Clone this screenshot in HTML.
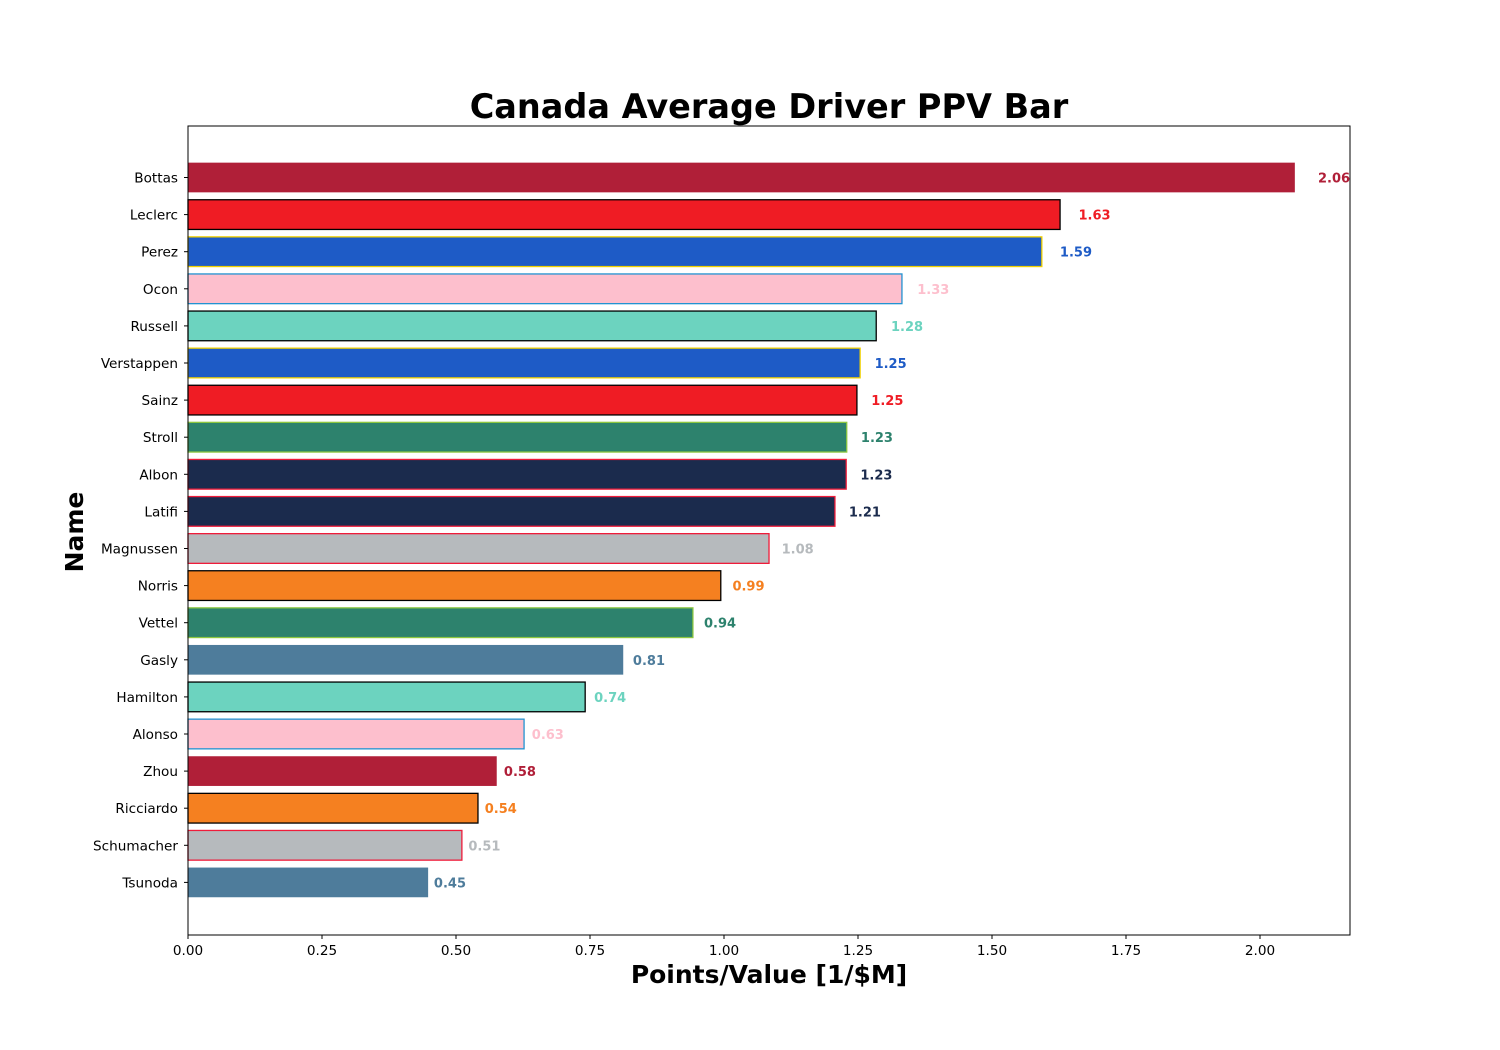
<!DOCTYPE html>
<html><head><meta charset="utf-8"><style>
html,body{margin:0;padding:0;background:#fff;}
svg{display:block;font-family:"DejaVu Sans","Liberation Sans",sans-serif;}
</style></head><body>
<svg id="chart" width="1500" height="1050" viewBox="0 0 1500 1050" xmlns="http://www.w3.org/2000/svg">
<rect width="1500" height="1050" fill="#fff"/>
<text x="769" y="118" text-anchor="middle" font-size="33.5" font-weight="bold">Canada Average Driver PPV Bar</text>
<text x="769" y="983" text-anchor="middle" font-size="25" font-weight="bold">Points/Value [1/$M]</text>
<text x="0" y="0" transform="translate(83,532) rotate(-90)" text-anchor="middle" font-size="25" font-weight="bold">Name</text>
<g id="bars"></g>
<g id="ticks"></g>
<rect x="188" y="126" width="1162" height="809" fill="none" stroke="#000" stroke-width="1"/>
</svg>
<script>
const names = ["Bottas","Leclerc","Perez","Ocon","Russell","Verstappen","Sainz","Stroll","Albon","Latifi","Magnussen","Norris","Vettel","Gasly","Hamilton","Alonso","Zhou","Ricciardo","Schumacher","Tsunoda"];
const values = [2.065,1.627,1.593,1.332,1.284,1.254,1.248,1.229,1.228,1.207,1.084,0.994,0.942,0.812,0.741,0.627,0.576,0.541,0.511,0.448];
const labels = ["2.06","1.63","1.59","1.33","1.28","1.25","1.25","1.23","1.23","1.21","1.08","0.99","0.94","0.81","0.74","0.63","0.58","0.54","0.51","0.45"];
const fills = ["#b01f38","#ef1c24","#1e5bc6","#fdbfcd","#6cd3bf","#1e5bc6","#ef1c24","#2d826d","#1b2b4d","#1b2b4d","#b6babd","#f58020","#2d826d","#4e7c9b","#6cd3bf","#fdbfcd","#b01f38","#f58020","#b6babd","#4e7c9b"];
const edges = ["none","#000","#f0d000","#2293d1","#000","#f0d000","#000","#8cc63f","#ef1c3a","#ef1c3a","#ef1c3a","#000","#8cc63f","none","#000","#2293d1","none","#000","#ef1c3a","none"];
const xTicks = [0,0.25,0.5,0.75,1.0,1.25,1.5,1.75,2.0];
const xTickLabels = ["0.00","0.25","0.50","0.75","1.00","1.25","1.50","1.75","2.00"];

const NS="http://www.w3.org/2000/svg";
const X0=188, PX=536;
function xs(v){return X0+v*PX;}
function yc(i){return 177.5+i*37.1;}
const bh=29.7;
const gb=document.getElementById('bars'), gt=document.getElementById('ticks');
function mk(tag,attrs,parent){const e=document.createElementNS(NS,tag);for(const k in attrs)e.setAttribute(k,attrs[k]);parent.appendChild(e);return e;}
names.forEach((n,i)=>{
  const r=mk('rect',{x:xs(0),y:yc(i)-bh/2,width:xs(values[i])-xs(0),height:bh,fill:fills[i],stroke:edges[i],'stroke-width':1.3},gb);
  
  
  const t=mk('text',{x:xs(values[i]*1.02)+1,y:yc(i)+5,'font-size':13,'font-weight':'bold',fill:fills[i]},gb);
  t.textContent=labels[i];
  
  
  const tk=mk('line',{x1:X0-4,x2:X0,y1:yc(i),y2:yc(i),stroke:'#000'},gt);
  
  
  const tl=mk('text',{x:X0-10,y:yc(i)+5,'font-size':13.6,'text-anchor':'end'},gt);
  tl.textContent=n;
  
  
});
xTicks.forEach((v,i)=>{
  const tk=mk('line',{x1:xs(v),x2:xs(v),y1:935,y2:939,stroke:'#000'},gt);
  
  
  const tl=mk('text',{x:xs(v),y:955,'font-size':13.6,'text-anchor':'middle'},gt);
  tl.textContent=xTickLabels[i];
  
  
});
</script>
</body></html>
